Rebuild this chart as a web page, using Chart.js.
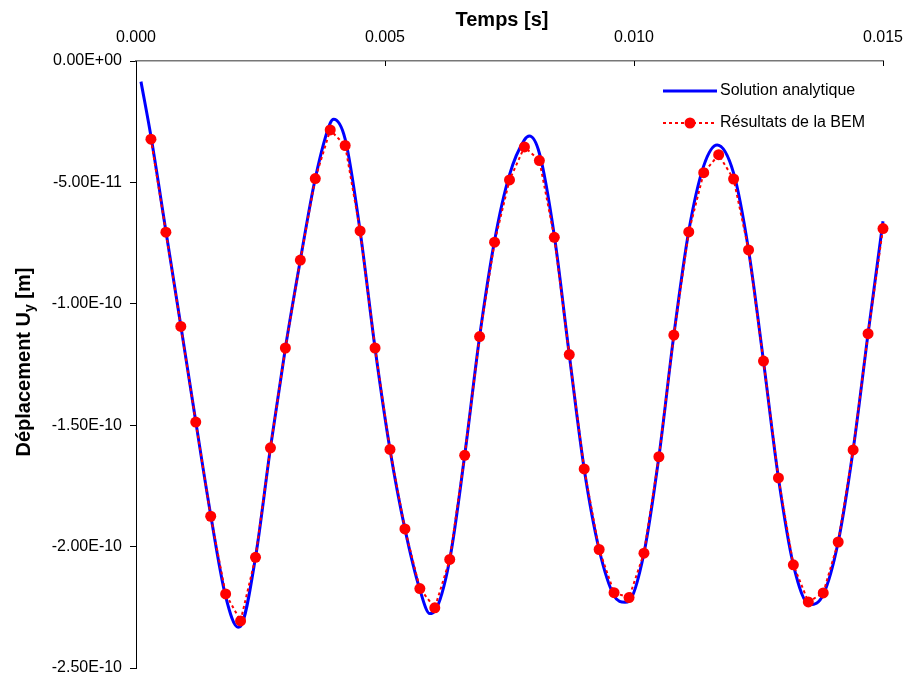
<!DOCTYPE html>
<html>
<head>
<meta charset="utf-8">
<script src="https://cdn.jsdelivr.net/npm/chart.js@4/dist/chart.umd.min.js"></script>
<style>
  html, body { margin: 0; padding: 0; background: #fff; }
</style>
</head>
<body>
<canvas id="chart" width="906" height="677"></canvas>
<script>
// ----------------------
// Data (time in s, displacement in units of 1e-11 m)
// ----------------------
const bemTimes = [
    0.0003, 0.0006, 0.0009, 0.0012, 0.0015, 0.0018, 0.0021, 0.0024, 0.0027, 0.0030,
    0.0033, 0.0036, 0.0039, 0.0042, 0.0045, 0.0048, 0.0051, 0.0054, 0.0057, 0.0060,
    0.0063, 0.0066, 0.0069, 0.0072, 0.0075, 0.0078, 0.0081, 0.0084, 0.0087, 0.0090,
    0.0093, 0.0096, 0.0099, 0.0102, 0.0105, 0.0108, 0.0111, 0.0114, 0.0117, 0.0120,
    0.0123, 0.0126, 0.0129, 0.0132, 0.0135, 0.0138, 0.0141, 0.0144, 0.0147, 0.0150
];
const bemValues = [
    -3.22, -7.05, -10.93, -14.87, -18.75, -21.95, -23.06, -20.44, -15.93, -11.82,
    -8.20, -4.84, -2.84, -3.48, -7.00, -11.82, -16.00, -19.27, -21.73, -22.52,
    -20.53, -16.24, -11.35, -7.46, -4.90, -3.54, -4.10, -7.26, -12.09, -16.80,
    -20.12, -21.90, -22.10, -20.27, -16.30, -11.29, -7.04, -4.60, -3.86, -4.86,
    -7.78, -12.36, -17.17, -20.75, -22.28, -21.91, -19.81, -16.02, -11.23, -6.90
];

const anaTimes = [
    0.0001, 0.0003, 0.0006, 0.0009, 0.0012, 0.0015, 0.0018, 0.00205, 0.0021, 0.0024,
    0.0027, 0.0030, 0.0033, 0.0036, 0.0039, 0.00397, 0.0042, 0.0045, 0.0048, 0.0051,
    0.0054, 0.0057, 0.0059, 0.0060, 0.0063, 0.0066, 0.0069, 0.0072, 0.0075, 0.0078,
    0.0079, 0.0081, 0.0084, 0.0087, 0.0090, 0.0093, 0.0096, 0.00982, 0.0099, 0.0102,
    0.0105, 0.0108, 0.0111, 0.0114, 0.01167, 0.0120, 0.0123, 0.0126, 0.0129, 0.0132,
    0.01353, 0.0138, 0.0141, 0.0144, 0.0147, 0.0150, 0.01512
];
const anaValues = [
    -0.85, -3.10, -7.00, -10.90, -14.85, -18.70, -22.05, -23.32, -23.28, -20.44,
    -15.93, -11.82, -8.20, -4.84, -2.56, -2.40, -3.22, -7.00, -11.82, -16.00,
    -19.27, -21.77, -22.76, -22.66, -20.53, -16.24, -11.35, -7.40, -4.69, -3.25,
    -3.09, -3.80, -7.20, -12.09, -16.80, -20.12, -22.02, -22.29, -22.25, -20.27,
    -16.30, -11.29, -7.00, -4.32, -3.46, -4.62, -7.78, -12.36, -17.17, -20.75,
    -22.39, -21.98, -19.81, -16.02, -11.23, -6.60, -4.80
];

const xTickValues = [0, 0.005, 0.010, 0.015];
const xTickLabels = ['0.000', '0.005', '0.010', '0.015'];
const yTickValues = [0, -5, -10, -15, -20, -25];
const yTickLabels = ['0.00E+00', '-5.00E-11', '-1.00E-10', '-1.50E-10', '-2.00E-10', '-2.50E-10'];

const FONT = "'Liberation Sans', Arial, sans-serif";
const BLUE = '#0000ff';
const RED = '#ff0000';

// ----------------------
// Extra drawing: axis titles, inner x ticks, legend
// ----------------------
const extras = {
    id: 'extras',
    afterDraw(chart) {
        const { ctx, chartArea, scales } = chart;
        ctx.save();

        // x ticks point down into the plot
        ctx.strokeStyle = '#000';
        ctx.lineWidth = 1;
        xTickValues.forEach(v => {
            const px = Math.round(scales.x.getPixelForValue(v)) + 0.5;
            ctx.beginPath();
            ctx.moveTo(px, chartArea.top);
            ctx.lineTo(px, chartArea.top + 5);
            ctx.stroke();
        });

        const big = 'bold 20px ' + FONT;
        const small = 'bold 14px ' + FONT;

        // x title
        ctx.fillStyle = '#000';
        ctx.font = big;
        ctx.textAlign = 'center';
        ctx.textBaseline = 'middle';
        ctx.fillText('Temps [s]', 502, 20);

        // y title "Déplacement Uy [m]" with subscript y
        ctx.translate(30, 362);
        ctx.rotate(-Math.PI / 2);
        ctx.textBaseline = 'alphabetic';
        ctx.textAlign = 'left';
        const parts = [['Déplacement U', big, 0], ['y', small, 4], [' [m]', big, 0]];
        let total = 0;
        parts.forEach(p => { ctx.font = p[1]; total += ctx.measureText(p[0]).width; });
        let x = -total / 2;
        parts.forEach(p => {
            ctx.font = p[1];
            ctx.fillText(p[0], x, p[2]);
            x += ctx.measureText(p[0]).width;
        });
        ctx.setTransform(1, 0, 0, 1, 0, 0);

        // legend
        const lx0 = chartArea.right - 220;
        const lx1 = chartArea.right - 166;
        const ly1 = chartArea.top + 30;
        const ly2 = chartArea.top + 62;
        ctx.font = '16px ' + FONT;
        ctx.textBaseline = 'middle';

        ctx.strokeStyle = BLUE;
        ctx.lineWidth = 3;
        ctx.beginPath();
        ctx.moveTo(lx0, ly1);
        ctx.lineTo(lx1, ly1);
        ctx.stroke();
        ctx.fillStyle = '#000';
        ctx.fillText('Solution analytique', lx1 + 3, ly1);

        ctx.strokeStyle = RED;
        ctx.lineWidth = 2;
        ctx.setLineDash([3, 3]);
        ctx.beginPath();
        ctx.moveTo(lx0, ly2);
        ctx.lineTo(lx1, ly2);
        ctx.stroke();
        ctx.setLineDash([]);
        ctx.fillStyle = RED;
        ctx.beginPath();
        ctx.arc((lx0 + lx1) / 2, ly2, 5.5, 0, Math.PI * 2);
        ctx.fill();
        ctx.fillStyle = '#000';
        ctx.fillText('Résultats de la BEM', lx1 + 3, ly2);

        ctx.restore();
    }
};

// ----------------------
// Chart
// ----------------------
const ctx = document.getElementById('chart').getContext('2d');

new Chart(ctx, {
    type: 'line',
    data: {
        datasets: [
            {
                label: 'Solution analytique',
                data: anaTimes.map((t, i) => ({ x: t, y: anaValues[i] })),
                borderColor: BLUE,
                borderWidth: 3,
                pointRadius: 0,
                cubicInterpolationMode: 'monotone',
                fill: false,
                order: 2,
                clip: false // curve runs a few pixels past the last tick
            },
            {
                label: 'Résultats de la BEM',
                data: bemTimes.map((t, i) => ({ x: t, y: bemValues[i] })),
                borderColor: RED,
                borderWidth: 2,
                borderDash: [3, 3],
                pointRadius: 5.5,
                pointBackgroundColor: RED,
                pointBorderWidth: 0,
                tension: 0,
                fill: false,
                order: 1,
                clip: false
            }
        ]
    },
    options: {
        responsive: false,
        animation: false,
        layout: { autoPadding: false, padding: { left: 0, top: 0, right: 23, bottom: 9 } },
        plugins: {
            legend: { display: false },
            tooltip: { enabled: false }
        },
        scales: {
            x: {
                type: 'linear',
                position: 'top',
                min: 0,
                max: 0.015,
                afterBuildTicks: s => { s.ticks = xTickValues.map(v => ({ value: v })); },
                afterFit: s => {
                    s.height = 61;
                    s.paddingLeft = 0;
                    s.paddingRight = 0;
                },
                ticks: {
                    autoSkip: false,
                    maxRotation: 0,
                    padding: 14,
                    color: '#000',
                    font: { family: FONT, size: 16 },
                    callback: (v, i) => xTickLabels[i]
                },
                grid: { drawOnChartArea: false, drawTicks: false },
                border: { display: true, color: '#777', width: 1.5 }
            },
            y: {
                type: 'linear',
                min: -25,
                max: 0,
                afterBuildTicks: s => { s.ticks = yTickValues.map(v => ({ value: v })); },
                afterFit: s => {
                    s.width = 136;
                    s.paddingTop = 0;
                    s.paddingBottom = 0;
                },
                ticks: {
                    autoSkip: false,
                    padding: 8,
                    color: '#000',
                    font: { family: FONT, size: 16 },
                    callback: (v, i) => yTickLabels[i]
                },
                grid: { drawOnChartArea: false, drawTicks: true, tickLength: 6, color: '#000' },
                border: { display: true, color: '#000', width: 1 }
            }
        }
    },
    plugins: [extras]
});
</script>
</body>
</html>
